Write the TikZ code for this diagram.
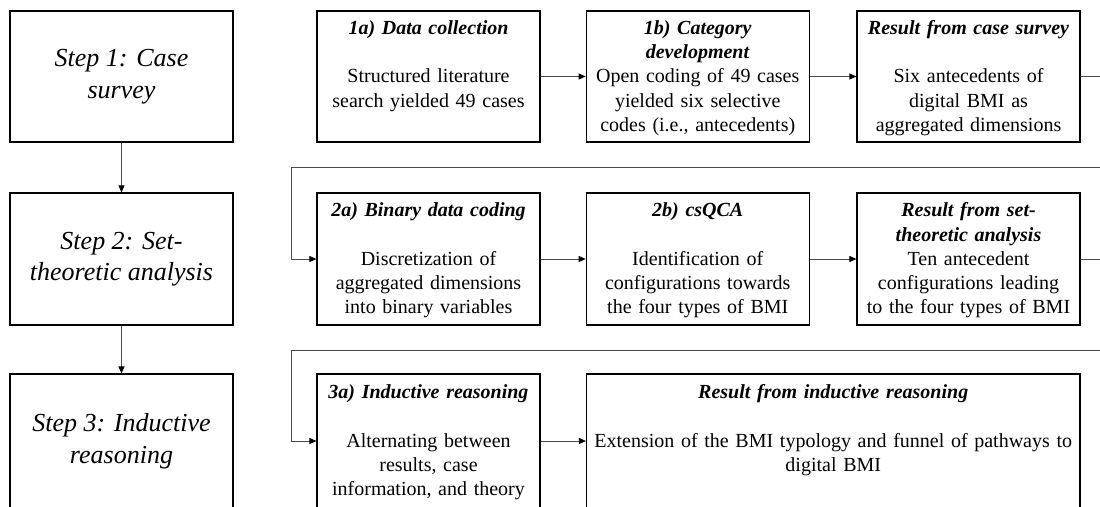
\documentclass[tikz,border=0pt]{standalone}
\usepackage{fontspec}
\setmainfont{Liberation Serif}
\usetikzlibrary{arrows.meta}
\newcommand\headtext[1]{\textbf{\textit{#1}}}
\newcommand\firstln{\rule{0pt}{20pt}}
\begin{document}
\begin{tikzpicture}[x=1pt,y=-1pt,
  stepbox/.style={draw=black, line width=1.2pt, minimum width=223pt, minimum height=131pt,
    inner sep=0pt, align=center, font=\fontsize{26}{31.5}\selectfont\itshape},
  stage/.style={draw=black, line width=1.2pt, minimum width=223pt, minimum height=131pt,
    inner sep=0pt, text width=220pt, align=center, font=\fontsize{20}{24.3}\selectfont},
  conn/.style={draw=black!70, line width=0.8pt, -{Triangle[length=7pt,width=6pt,color=black]}}]
\useasboundingbox (0,0) rectangle (1100,506);
\clip (0,0) rectangle (1100,506);

% left column: the three steps
\node[stepbox] (s1) at (121.5,76.5) {Step 1: Case\\survey};
\node[stepbox, minimum height=132pt] (s2) at (121.5,259) {Step 2: Set-\\theoretic analysis};
\node[stepbox, minimum height=134pt] (s3) at (121.5,441) {Step 3: Inductive\\reasoning};

% row 1
\node[stage] (a1) at (428.5,76.5) {\firstln\headtext{1a) Data collection}\\\strut\\\strut Structured literature\\\strut search yielded 49 cases\\\strut};
\node[stage] (b1) at (697.75,76.5) {\firstln\headtext{1b) Category}\\\strut\headtext{development}\\\strut Open coding of 49 cases\\\strut yielded six selective\\\strut codes (i.e., antecedents)};
\node[stage] (c1) at (968.5,76.5) {\firstln\headtext{Result from case survey}\\\strut\\\strut Six antecedents of\\\strut digital BMI as\\\strut aggregated dimensions};

% row 2
\node[stage, minimum height=132pt] (a2) at (428.5,259) {\firstln\headtext{2a) Binary data coding}\\\strut\\\strut Discretization of\\\strut aggregated dimensions\\\strut into binary variables};
\node[stage, minimum height=132pt] (b2) at (697.75,259) {\firstln\headtext{2b) csQCA}\\\strut\\\strut Identification of\\\strut configurations towards\\\strut the four types of BMI};
\node[stage, minimum height=132pt] (c2) at (968.5,259) {\firstln\headtext{Result from set-}\\\strut\headtext{theoretic analysis}\\\strut Ten antecedent\\\strut configurations leading\\\strut to the four types of BMI};

% row 3
\node[stage, minimum height=134pt] (a3) at (428.5,441) {\firstln\headtext{3a) Inductive reasoning}\\\strut\\\strut Alternating between\\\strut results, case\\\strut information, and theory};
\node[stage, minimum height=134pt, minimum width=493.5pt, text width=480pt] (b3) at (833.25,441) {\firstln\headtext{Result from inductive reasoning}\\\strut\\\strut Extension of the BMI typology and funnel of pathways to\\\strut digital BMI\\\strut};

% step sequence
\draw[conn] (s1.south) -- (s2.north);
\draw[conn] (s2.south) -- (s3.north);

% flow within each row
\draw[conn] (a1.east) -- (b1.west);
\draw[conn] (b1.east) -- (c1.west);
\draw[conn] (a2.east) -- (b2.west);
\draw[conn] (b2.east) -- (c2.west);
\draw[conn] (a3.east) -- (b3.west);

% return lines from the end of one row to the start of the next
\coordinate (turn1) at (1115,167);
\coordinate (back1) at (291,167);
\coordinate (turn2) at (1115,350);
\coordinate (back2) at (291,350);
\draw[conn] (c1.east) -| (turn1) -- (back1) |- (a2.west);
\draw[conn] (c2.east) -| (turn2) -- (back2) |- (a3.west);
\end{tikzpicture}
\end{document}
